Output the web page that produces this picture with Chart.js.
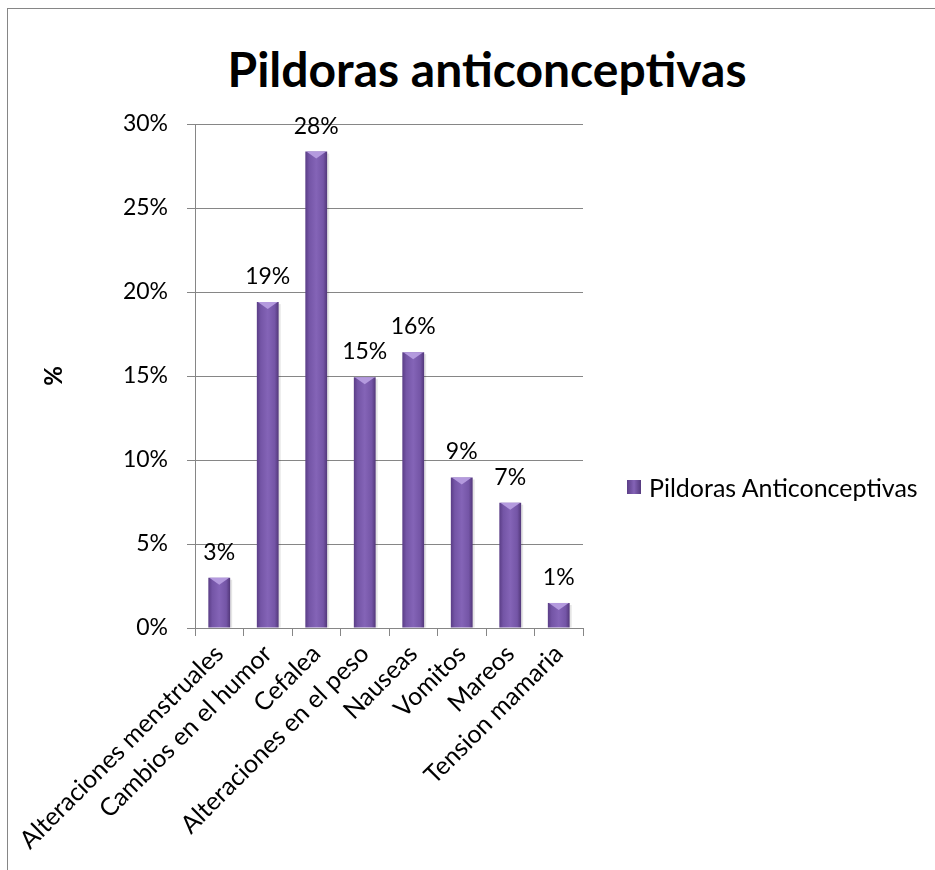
<!DOCTYPE html>
<html lang="es">
<head>
<meta charset="utf-8">
<title>Pildoras anticonceptivas</title>
<script src="https://cdn.jsdelivr.net/npm/chart.js@4.4.1/dist/chart.umd.min.js"></script>
<style>
    html, body { margin: 0; padding: 0; background: #fff; overflow: hidden; }
    body { width: 935px; height: 870px; position: relative; font-family: Lato, Carlito, Calibri, sans-serif; }
    .frame {
        position: absolute; left: 7px; top: 8px; width: 1200px; height: 1200px;
        border: 1px solid #868686; box-sizing: border-box;
    }
    #chart { position: absolute; left: 0; top: 0; }
    .chart-title {
        position: absolute; left: 187px; top: 40px; width: 600px;
        text-align: center; font-weight: bold; font-size: 48px; line-height: 58px; color: #000;
    }
    .chart-legend {
        position: absolute; left: 627px; top: 471px;
        display: flex; align-items: center; font-size: 25px; line-height: 32px; color: #000;
    }
    .legend-box {
        width: 14px; height: 14px; margin-right: 8px;
        background: linear-gradient(90deg, #5b3e87, #8463b6 50%, #553a7e);
    }
</style>
</head>
<body>
<div class="frame"></div>
<div class="chart-title">Pildoras anticonceptivas</div>
<canvas id="chart" width="935" height="870"></canvas>
<div class="chart-legend" id="legend"></div>

<script>
'use strict';

// ===== データ =====

const CATEGORIES = [
    'Alteraciones menstruales',
    'Cambios en el humor',
    'Cefalea',
    'Alteraciones en el peso',
    'Nauseas',
    'Vomitos',
    'Mareos',
    'Tension mamaria',
];

const SERIES_LABEL = 'Pildoras Anticonceptivas';
const SERIES_VALUES = [0.0299, 0.1940, 0.2836, 0.1493, 0.1642, 0.0896, 0.0746, 0.0149];

const Y_TICKS = [0, 0.05, 0.10, 0.15, 0.20, 0.25, 0.30];

const FONT_FAMILY = 'Lato, Carlito, Calibri, sans-serif';
const AXIS_GRAY   = '#868686';
const BAR_FLAT    = '#7a5aad';
const BAR_PCT     = 0.45;

const pct = v => `${Math.round(v * 100)}%`;

// 棒の横グラデーション（x軸スケールから棒の幅を取る）
function barGradient(context) {
    const chart = context.chart;
    const xs = chart.scales.x;
    if (!xs || context.dataIndex === undefined) return BAR_FLAT;
    const cx = xs.getPixelForValue(context.dataIndex);
    const half = (xs.getPixelForValue(1) - xs.getPixelForValue(0)) * BAR_PCT / 2;
    if (!Number.isFinite(cx) || !Number.isFinite(half) || half <= 0) return BAR_FLAT;
    const g = chart.ctx.createLinearGradient(cx - half, 0, cx + half, 0);
    g.addColorStop(0,    '#5a3d86');
    g.addColorStop(0.18, '#7455a6');
    g.addColorStop(0.5,  '#8464b7');
    g.addColorStop(0.82, '#7455a6');
    g.addColorStop(1,    '#523779');
    return g;
}

// ===== プラグイン =====

// 棒の上端の面取り（明るい三角）と右側の薄い影
const barBevel = {
    id: 'barBevel',
    afterDatasetsDraw(chart) {
        const { ctx } = chart;
        const meta = chart.getDatasetMeta(0);
        ctx.save();
        meta.data.forEach(bar => {
            const { x, y, width, base } = bar.getProps(['x', 'y', 'width', 'base'], true);
            const h = Math.min(7, Math.abs(base - y) / 2);
            ctx.beginPath();
            ctx.moveTo(x - width / 2 + 1, y);
            ctx.lineTo(x + width / 2 - 1, y);
            ctx.lineTo(x, y + h);
            ctx.closePath();
            ctx.fillStyle = '#b49ade';
            ctx.fill();
            ctx.fillStyle = 'rgba(0,0,0,0.10)';
            ctx.fillRect(x + width / 2, y + 2, 2, base - y - 2);
        });
        ctx.restore();
    },
};

// 棒の上に値ラベル
const barValueLabels = {
    id: 'barValueLabels',
    afterDatasetsDraw(chart) {
        const { ctx } = chart;
        const meta = chart.getDatasetMeta(0);
        const values = chart.data.datasets[0].data;
        ctx.save();
        ctx.font = `23px ${FONT_FAMILY}`;
        ctx.fillStyle = '#000';
        ctx.textAlign = 'center';
        ctx.textBaseline = 'alphabetic';
        meta.data.forEach((bar, i) => {
            ctx.fillText(pct(values[i]), bar.x, bar.y - 18);
        });
        ctx.restore();
    },
};

// ===== グラフ =====

const chart = new Chart(document.getElementById('chart').getContext('2d'), {
    type: 'bar',
    data: {
        labels: CATEGORIES,
        datasets: [{
            label: SERIES_LABEL,
            data: SERIES_VALUES,
            backgroundColor: barGradient,
            borderWidth: 0,
            barPercentage: BAR_PCT,
            categoryPercentage: 1,
        }],
    },
    options: {
        responsive: false,
        animation: false,
        devicePixelRatio: 1,
        layout: { padding: { top: 124, right: 352, bottom: 0, left: 0 } },
        plugins: {
            legend:  { display: false },
            tooltip: { enabled: false },
        },
        scales: {
            x: {
                grid:   { drawOnChartArea: false, offset: true, tickLength: 8, color: AXIS_GRAY },
                border: { color: AXIS_GRAY },
                ticks:  {
                    autoSkip: false, minRotation: 45, maxRotation: 45, padding: 3,
                    font: { family: FONT_FAMILY, size: 25 }, color: '#000',
                },
                afterFit: s => { s.height = 242; },
            },
            y: {
                min: 0,
                max: 0.30,
                afterBuildTicks: s => { s.ticks = Y_TICKS.map(v => ({ value: v })); },
                grid:   { color: AXIS_GRAY, tickLength: 8 },
                border: { color: AXIS_GRAY },
                ticks:  {
                    padding: 19, color: '#000',
                    font: { family: FONT_FAMILY, size: 23 },
                    callback: v => pct(v),
                },
                title: {
                    display: true, text: '%', color: '#000',
                    font: { family: FONT_FAMILY, size: 24, weight: 'bold' },
                    padding: { top: 40, bottom: 0 },
                },
                afterFit: s => { s.width = 195; },
            },
        },
    },
    plugins: [barBevel, barValueLabels],
});

// 初回はスケール確定前なので、グラデーションを付け直す
chart.update();

// ===== 凡例 =====

const legendEl = document.getElementById('legend');
chart.data.datasets.forEach(ds => {
    const box = document.createElement('span');
    box.className = 'legend-box';
    legendEl.appendChild(box);
    legendEl.appendChild(document.createTextNode(ds.label));
});
</script>
</body>
</html>
